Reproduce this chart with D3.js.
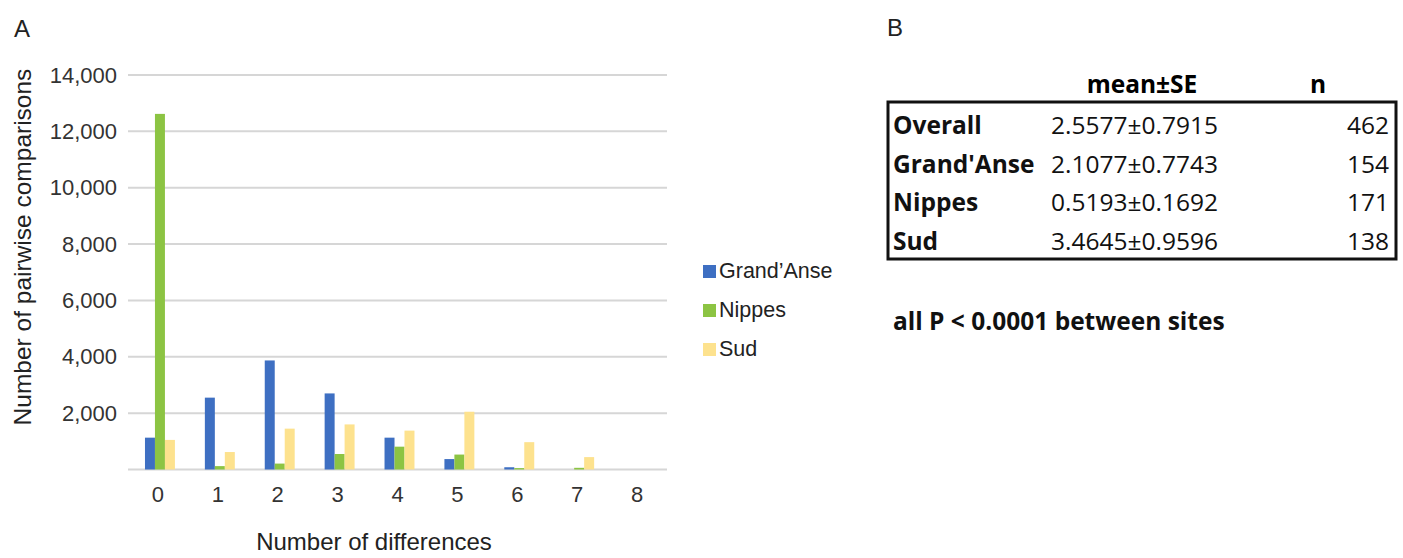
<!DOCTYPE html>
<html>
<head>
<meta charset="utf-8">
<script src="https://cdn.jsdelivr.net/npm/d3@7"></script>
<style>
	body { margin: 0; background: #fff; }
	svg { display: block; }
</style>
</head>
<body>
<svg id="fig" width="1403" height="558"></svg>
<script>
// panel A data: pairwise comparisons by number of differences
const categories = ["0", "1", "2", "3", "4", "5", "6", "7", "8"];
const seriesNames = ["Grand\u2019Anse", "Nippes", "Sud"];
const grandAnse = [1130, 2550, 3870, 2700, 1130, 370, 80, 0, 0];
const nippes = [12620, 120, 210, 550, 810, 530, 50, 60, 0];
const sud = [1050, 620, 1450, 1600, 1380, 2050, 970, 440, 0];
const yTicks = [2000, 4000, 6000, 8000, 10000, 12000, 14000];
const colors = ["#3e6fc2", "#8cc443", "#fde28e"];

// panel B data
const siteNames = ["Overall", "Grand'Anse", "Nippes", "Sud"];
const meanSE = ["2.5577\u00b10.7915", "2.1077\u00b10.7743", "0.5193\u00b10.1692", "3.4645\u00b10.9596"];
const counts = [462, 154, 171, 138];

const allSeries = [grandAnse, nippes, sud];

const svg = d3.select("#fig");
const chartFont = "'Liberation Sans', Arial, sans-serif";
const tableFont = "'Open Sans', sans-serif";

// ---- panel A ----
svg.append("text").attr("x", 14).attr("y", 37)
	.style("font-family", chartFont).style("font-size", "24px").attr("fill", "#222")
	.text("A");

const x = d3.scaleBand().domain(categories).range([128, 667]).padding(0);
const xInner = d3.scaleBand().domain(seriesNames).range([0, x.bandwidth()])
	.paddingInner(0).paddingOuter(1.5);
const y = d3.scaleLinear().domain([0, 14000]).range([469.5, 75]);

// gridlines
svg.append("g").selectAll("line")
	.data([0].concat(yTicks))
	.join("line")
	.attr("x1", 128).attr("x2", 667)
	.attr("y1", d => y(d)).attr("y2", d => y(d))
	.attr("stroke", "#d6d6d6").attr("stroke-width", 2);

// y labels (no 0 label)
const yAxis = svg.append("g").attr("transform", "translate(124,0)")
	.call(d3.axisLeft(y).tickValues(yTicks).tickSize(0).tickPadding(7).tickFormat(d3.format(",")));
yAxis.select(".domain").remove();
yAxis.selectAll("text").style("font-family", chartFont).style("font-size", "22px").attr("fill", "#333");

// x labels
const xAxis = svg.append("g").attr("transform", `translate(0,${y(0)})`)
	.call(d3.axisBottom(x).tickSize(0).tickPadding(17));
xAxis.select(".domain").remove();
xAxis.selectAll("text").style("font-family", chartFont).style("font-size", "22px").attr("fill", "#333");

// bars
const groups = svg.append("g").selectAll("g")
	.data(categories)
	.join("g")
	.attr("transform", d => `translate(${x(d) + 2},0)`);

groups.selectAll("rect")
	.data((c, i) => allSeries.map((s, j) => ({ key: seriesNames[j], value: s[i], color: colors[j] })))
	.join("rect")
	.attr("x", d => xInner(d.key))
	.attr("width", xInner.bandwidth())
	.attr("y", d => y(d.value))
	.attr("height", d => y(0) - y(d.value))
	.attr("fill", d => d.color);

// axis titles
svg.append("text")
	.attr("x", 374).attr("y", 550)
	.attr("text-anchor", "middle")
	.style("font-family", chartFont).style("font-size", "24px").attr("fill", "#222")
	.text("Number of differences");

svg.append("text")
	.attr("transform", "translate(31,247) rotate(-90)")
	.attr("text-anchor", "middle")
	.style("font-family", chartFont).style("font-size", "24.5px").attr("fill", "#222")
	.text("Number of pairwise comparisons");

// legend
const legend = svg.append("g").selectAll("g")
	.data(seriesNames)
	.join("g")
	.attr("transform", (d, i) => `translate(703,${265 + i * 39})`);
legend.append("rect").attr("width", 13).attr("height", 13)
	.attr("fill", (d, i) => colors[i]);
legend.append("text").attr("x", 16).attr("y", 13)
	.style("font-family", chartFont).style("font-size", "21.5px")
	.attr("fill", "#222")
	.text(d => d);

// ---- panel B ----
svg.append("text").attr("x", 887).attr("y", 36)
	.style("font-family", chartFont).style("font-size", "24px").attr("fill", "#222")
	.text("B");

svg.append("text").attr("x", 1142).attr("y", 93).attr("text-anchor", "middle")
	.style("font-family", tableFont).style("font-size", "24.5px").style("font-weight", "bold")
	.text("mean\u00b1SE");
svg.append("text").attr("x", 1318).attr("y", 93).attr("text-anchor", "middle")
	.style("font-family", tableFont).style("font-size", "24.5px").style("font-weight", "bold")
	.text("n");

svg.append("rect")
	.attr("x", 888).attr("y", 102).attr("width", 508).attr("height", 157)
	.attr("fill", "none").attr("stroke", "#111").attr("stroke-width", 3);

const rowY = d3.scalePoint().domain(siteNames).range([134, 250]);

const rows = svg.append("g").selectAll("g")
	.data(siteNames)
	.join("g")
	.attr("transform", d => `translate(0,${rowY(d)})`)
	.style("font-family", tableFont).style("font-size", "24.5px").attr("fill", "#111");

rows.append("text").attr("x", 893).style("font-weight", "bold").text(d => d);
rows.append("text").attr("x", 1051).text((d, i) => meanSE[i]);
rows.append("text").attr("x", 1389).attr("text-anchor", "end").text((d, i) => counts[i]);

svg.append("text").attr("x", 893).attr("y", 330)
	.style("font-family", tableFont).style("font-size", "24.5px").style("font-weight", "bold")
	.attr("fill", "#111")
	.text("all P < 0.0001 between sites");
</script>
</body>
</html>
